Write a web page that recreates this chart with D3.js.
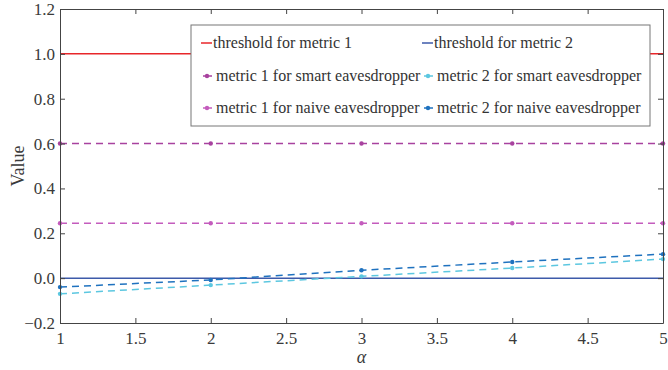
<!DOCTYPE html>
<html>
<head>
<meta charset="utf-8">
<script src="https://cdn.jsdelivr.net/npm/d3@7"></script>
<style>
  body { margin: 0; background: #fff; }
  text { font-family: "Liberation Serif", "Times New Roman", serif; }
</style>
</head>
<body>
<div id="chart"></div>
<script>
// values
const alphas = [1, 2, 3, 4, 5];
const threshold1 = 1.0;
const threshold2 = 0.0;
const m1Smart = [0.6, 0.6, 0.6, 0.6, 0.6];
const m1Naive = [0.245, 0.245, 0.245, 0.245, 0.245];
const m2Smart = [-0.07, -0.031, 0.008, 0.045, 0.085];
const m2Naive = [-0.04, -0.008, 0.035, 0.072, 0.107];
const xTicks = [1, 1.5, 2, 2.5, 3, 3.5, 4, 4.5, 5];
const yTicks = [-0.2, 0, 0.2, 0.4, 0.6, 0.8, 1.0, 1.2];

const width = 668, height = 370;
const margin = {top: 9, right: 5, bottom: 47, left: 60};
const innerW = width - margin.left - margin.right;
const innerH = height - margin.top - margin.bottom;

const svg = d3.select("#chart").append("svg")
    .attr("width", width).attr("height", height);

const x = d3.scaleLinear().domain([1, 5]).range([margin.left, margin.left + innerW]);
const y = d3.scaleLinear().domain([-0.2, 1.2]).range([margin.top + innerH, margin.top]);

const axisColor = "#444";

// horizontal threshold lines
svg.append("line")
    .attr("x1", x(1)).attr("x2", x(5))
    .attr("y1", y(threshold1)).attr("y2", y(threshold1))
    .attr("stroke", "#e8262a").attr("stroke-width", 1.5);
svg.append("line")
    .attr("x1", x(1)).attr("x2", x(5))
    .attr("y1", y(threshold2)).attr("y2", y(threshold2))
    .attr("stroke", "#3d5aaa").attr("stroke-width", 1.5);

const series = [
  {vals: m1Smart, color: "#a8429f"},
  {vals: m1Naive, color: "#c45cbd"},
  {vals: m2Smart, color: "#5cc7e0"},
  {vals: m2Naive, color: "#1f72bf"}
];

const line = d3.line().x((d, i) => x(alphas[i])).y(d => y(d));

series.forEach(s => {
  svg.append("path")
      .attr("d", line(s.vals))
      .attr("fill", "none")
      .attr("stroke", s.color)
      .attr("stroke-width", 1.5)
      .attr("stroke-dasharray", "7,5");
  svg.selectAll(null).data(s.vals).enter().append("circle")
      .attr("cx", (d, i) => x(alphas[i]))
      .attr("cy", d => y(d))
      .attr("r", 2.2)
      .attr("fill", s.color);
});

// axes, ticks inward like matlab
const gx = svg.append("g").attr("transform", `translate(0,${margin.top + innerH})`)
    .call(d3.axisBottom(x).tickValues(xTicks).tickSizeInner(-5).tickSizeOuter(0)
      .tickPadding(9).tickFormat(d3.format("")));
const gxt = svg.append("g").attr("transform", `translate(0,${margin.top})`)
    .call(d3.axisTop(x).tickValues(xTicks).tickSizeInner(-5).tickSizeOuter(0).tickFormat(""));
const gy = svg.append("g").attr("transform", `translate(${margin.left},0)`)
    .call(d3.axisLeft(y).tickValues(yTicks).tickSizeInner(-5).tickSizeOuter(0)
      .tickPadding(5).tickFormat(d3.format(".1f")));
const gyr = svg.append("g").attr("transform", `translate(${margin.left + innerW},0)`)
    .call(d3.axisRight(y).tickValues(yTicks).tickSizeInner(-5).tickSizeOuter(0).tickFormat(""));

[gx, gxt, gy, gyr].forEach(g => {
  g.select(".domain").attr("stroke", axisColor).attr("stroke-width", 1);
  g.selectAll(".tick line").attr("stroke", axisColor);
  g.selectAll(".tick text").attr("fill", "#3a3a3a")
      .style("font-family", "'Liberation Serif', serif").style("font-size", "17px");
});

// axis titles
svg.append("text")
    .attr("x", x(3)).attr("y", 363)
    .attr("text-anchor", "middle")
    .attr("fill", "#3a3a3a")
    .style("font-size", "18px").style("font-style", "italic")
    .text("α");
svg.append("text")
    .attr("transform", `translate(24,${y(0.5)}) rotate(-90)`)
    .attr("text-anchor", "middle")
    .attr("fill", "#3a3a3a")
    .style("font-size", "18px")
    .text("Value");

// legend
const legend = svg.append("g");
legend.append("rect")
    .attr("x", 191).attr("y", 25).attr("width", 459).attr("height", 101)
    .attr("fill", "#fff").attr("stroke", "#777").attr("stroke-width", 1);

const legendItems = [
  {label: "threshold for metric 1", color: "#e8262a", marker: false, col: 0, row: 0},
  {label: "threshold for metric 2", color: "#3d5aaa", marker: false, col: 1, row: 0},
  {label: "metric 1 for smart eavesdropper", color: "#a8429f", marker: true, col: 0, row: 1},
  {label: "metric 2 for smart eavesdropper", color: "#5cc7e0", marker: true, col: 1, row: 1},
  {label: "metric 1 for naive eavesdropper", color: "#c45cbd", marker: true, col: 0, row: 2},
  {label: "metric 2 for naive eavesdropper", color: "#1f72bf", marker: true, col: 1, row: 2}
];
const colX = [201, 422];
const rowY = [43, 76, 108];

legendItems.forEach(it => {
  const lx = colX[it.col], ly = rowY[it.row];
  legend.append("line")
      .attr("x1", it.marker ? lx + 2 : lx).attr("x2", lx + 11)
      .attr("y1", ly).attr("y2", ly)
      .attr("stroke", it.color).attr("stroke-width", 1.5);
  if (it.marker) {
    legend.append("circle").attr("cx", lx + 6).attr("cy", ly).attr("r", 2.2).attr("fill", it.color);
  }
  legend.append("text")
      .attr("x", it.marker ? lx + 15 : lx + 12).attr("y", ly + 5)
      .attr("fill", "#333")
      .style("font-size", "16px")
      .text(it.label);
});
</script>
</body>
</html>
